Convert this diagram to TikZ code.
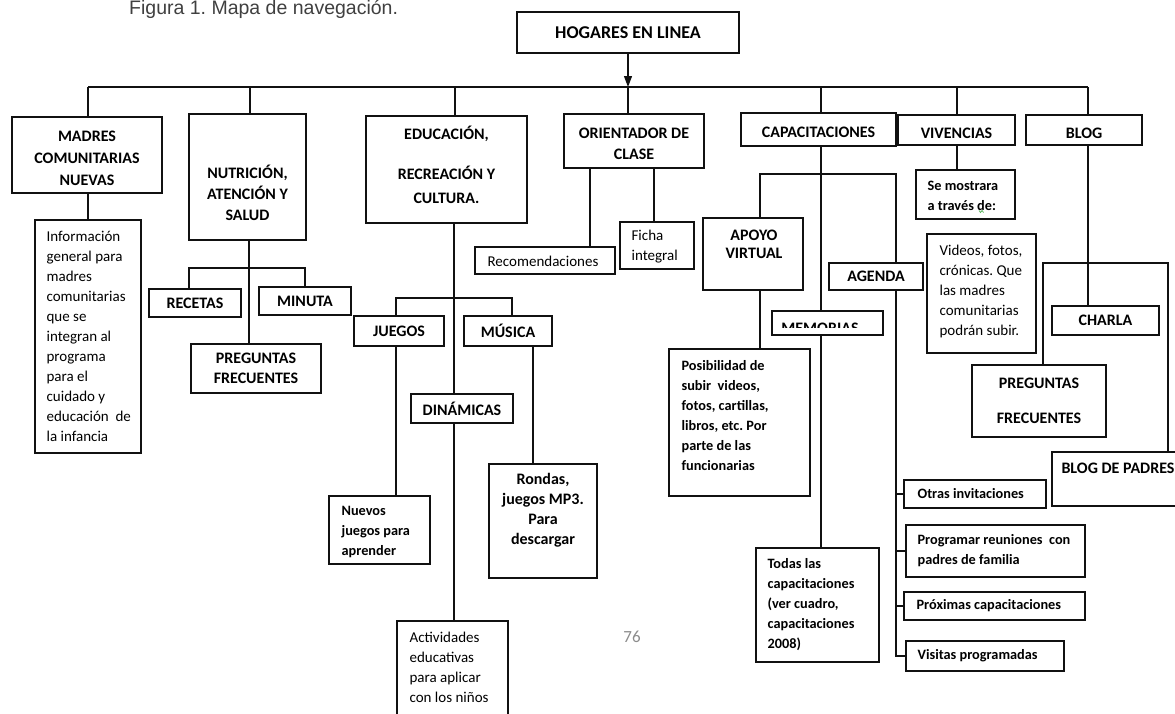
\documentclass[tikz,border=0pt]{standalone}
\usepackage{fontspec}
\setmainfont{Carlito}
\newfontfamily\capfont{Liberation Sans}
\usepackage{tikz}
\usetikzlibrary{arrows.meta}
\definecolor{ink}{HTML}{111111}
\definecolor{capgray}{HTML}{404040}
\definecolor{pagegray}{HTML}{8C8C8C}
\definecolor{wavy}{HTML}{4CAF50}
\frenchspacing
\tikzset{
  bx/.style={draw=ink, line width=1.2pt, inner sep=0pt},
  hd/.style={align=center, inner sep=0pt, font=\fontsize{16pt}{#1pt}\selectfont\bfseries},
  hd/.default=21,
  low/.style={text height=16pt, text depth=0pt},
  tx/.style={align=left, inner sep=0pt, anchor=west, font=\fontsize{15pt}{20pt}\selectfont},
  txb/.style={align=left, inner sep=0pt, anchor=west, font=\fontsize{14.3pt}{20pt}\selectfont\bfseries},
  link/.style={draw=ink, line width=1.2pt}
}

\begin{document}
\begin{tikzpicture}[x=1pt, y=-1pt]
  \path[use as bounding box, fill=white] (0,0) rectangle (1175,713);

  % titulo
  \node[font=\capfont\fontsize{19.5pt}{22pt}\selectfont, text=capgray, anchor=base west, inner sep=0pt] (caption) at (129,14.5) {Figura 1. Mapa de navegación.};

  \node[bx, font=\fontsize{18pt}{21pt}\selectfont\bfseries, minimum width=222, minimum height=41] (hogares) at (628,32.5) {HOGARES EN LINEA};

  % tronco
  \coordinate (t1) at (88,87);
  \coordinate (t2) at (250,87);
  \coordinate (t3) at (455,87);
  \coordinate (t4) at (628,87);
  \coordinate (t5) at (821,87);
  \coordinate (t6) at (957,87);
  \coordinate (t7) at (1088,87);

  % primer nivel
  \node[bx, minimum width=150, minimum height=76] (madres) at (87,155) {};
  \node[hd=22] (madrestxt) at (87,158) {MADRES\\COMUNITARIAS\\NUEVAS};
  \node[bx, minimum width=117, minimum height=126] (nutri) at (247.5,177) {};
  \node[hd] (nutritxt) at (247.5,193) {NUTRICIÓN,\\ATENCIÓN Y\\SALUD};
  \node[bx, minimum width=161, minimum height=107] (educ) at (446.5,169.5) {};
  \node[hd=24] (eductxt) at (446.5,165) {EDUCACIÓN,\\[16pt]RECREACIÓN Y\\CULTURA.};
  \node[bx, minimum width=140, minimum height=54] (orient) at (634,141) {};
  \node[hd] (orienttxt) at (634,144) {ORIENTADOR DE\\CLASE};
  \node[bx, hd, low, minimum width=155, minimum height=33] (capac) at (818.5,129.5) {CAPACITACIONES};
  \node[bx, hd, low, minimum width=117, minimum height=30] (viv) at (956.5,130) {VIVENCIAS};
  \node[bx, hd, low, minimum width=116, minimum height=30] (blog) at (1084,130) {BLOG};

  % madres comunitarias
  \node[bx, minimum width=106, minimum height=233] (info) at (88,336.5) {};
  \node[tx] (infotxt) at ([xshift=12pt]info.west) {Información\\general para\\madres\\comunitarias\\que se\\integran al\\programa\\para el\\cuidado y\\educación~~de\\la infancia};

  % nutricion
  \node[bx, hd, minimum width=92, minimum height=28] (recetas) at (195,303) {RECETAS};
  \node[bx, hd, minimum width=92, minimum height=28] (minuta) at (305,301) {MINUTA};
  \node[bx, hd=20, minimum width=130, minimum height=49] (preg1) at (256,368.5) {PREGUNTAS\\FRECUENTES};

  % educacion
  \node[bx, hd, minimum width=90, minimum height=30] (juegos) at (399,331) {JUEGOS};
  \node[bx, hd, minimum width=88, minimum height=30] (musica) at (508,331) {MÚSICA};
  \node[bx, hd, minimum width=102, minimum height=29] (dinam) at (462,408.5) {DINÁMICAS};
  \node[bx, minimum width=101, minimum height=68] (nuevos) at (379.5,530) {};
  \node[txb] (nuevostxt) at ([xshift=13pt, yshift=-2pt]nuevos.west) {Nuevos\\juegos para\\aprender};
  \node[bx, minimum width=108, minimum height=114] (rondas) at (543,521) {};
  \node[hd=20] (rondastxt) at (543,510) {Rondas,\\juegos MP3.\\Para\\descargar};
  \node[bx, minimum width=111, minimum height=96] (activ) at (452.5,669) {};
  \node[tx] (activtxt) at ([xshift=13pt, yshift=2pt]activ.west) {Actividades\\educativas\\para aplicar\\con los niños};
  \node[font=\fontsize{17pt}{20pt}\selectfont, text=pagegray, inner sep=0pt] (pagina) at (632,637) {76};

  % orientador
  \node[bx, minimum width=140, minimum height=27] (recom) at (545,260.5) {};
  \node[tx] (recomtxt) at ([xshift=13pt, yshift=-1pt]recom.west) {Recomendaciones};
  \node[bx, minimum width=74, minimum height=47] (ficha) at (657,245.5) {};
  \node[tx] (fichatxt) at ([xshift=12pt, yshift=-1pt]ficha.west) {Ficha\\integral};

  % capacitaciones
  \node[bx, minimum width=100, minimum height=72] (apoyo) at (753,254) {};
  \node[hd=18] (apoyotxt) at (754,244) {APOYO\\VIRTUAL};
  \node[bx, minimum width=141, minimum height=147] (posib) at (739.5,422.5) {};
  \node[txb] (posibtxt) at ([xshift=13pt, yshift=7pt]posib.west) {Posibilidad de\\subir~~videos,\\fotos, cartillas,\\libros, etc. Por\\parte de las\\funcionarias};
  \node[bx, minimum width=111, minimum height=24] (memo) at (827.5,323) {};
  \begin{scope}
    \clip (772,311) rectangle (883,327.5);
    \node[hd, anchor=base] (memotxt) at (820,333) {MEMORIAS};
  \end{scope}
  \node[bx, hd, minimum width=94, minimum height=27] (agenda) at (876,276.5) {AGENDA};
  \node[bx, minimum width=123, minimum height=114] (todas) at (817.5,605) {};
  \node[txb] (todastxt) at ([xshift=12pt]todas.west) {Todas las\\capacitaciones\\(ver cuadro,\\capacitaciones\\2008)};
  \node[bx, minimum width=142, minimum height=28] (otras) at (975,494) {};
  \node[txb] (otrastxt) at ([xshift=14pt]otras.west) {Otras invitaciones};
  \node[bx, minimum width=179, minimum height=52] (progr) at (995.5,551) {};
  \node[txb] (progrtxt) at ([xshift=12pt]progr.west) {Programar reuniones~~con\\padres de familia};
  \node[bx, minimum width=181, minimum height=28] (proxim) at (994.5,606) {};
  \node[txb] (proximtxt) at ([xshift=13pt]proxim.west) {Próximas capacitaciones};
  \node[bx, minimum width=158, minimum height=30] (visitas) at (985,656) {};
  \node[txb] (visitastxt) at ([xshift=12pt]visitas.west) {Visitas programadas};

  % vivencias
  \node[bx, minimum width=99, minimum height=49] (semost) at (965.5,194.5) {};
  \node[txb] (semosttxt) at ([xshift=12pt, yshift=-1.5pt]semost.west) {Se mostrara\\a través de:};
  \draw[wavy, line width=0.7pt] (979,210.5) -- (980.5,212.5) -- (982,210.5) -- (983.5,212.5);
  \node[bx, minimum width=109, minimum height=119] (videos) at (981.5,293.5) {};
  \node[tx] (videostxt) at ([xshift=13pt, yshift=2pt]videos.west) {Videos, fotos,\\crónicas. Que\\las madres\\comunitarias\\podrán subir.};

  % blog
  \node[bx, hd, minimum width=107, minimum height=29] (charla) at (1105.5,320.5) {CHARLA};
  \node[bx, hd=35, minimum width=134, minimum height=72] (preg2) at (1039,401) {PREGUNTAS\\FRECUENTES};
  \node[bx, minimum width=124, minimum height=54] (bpadres) at (1114,479) {};
  \node[hd] (bpadrestxt) at (1118,468) {BLOG DE PADRES};

  % conectores
  \draw[link] (t1) -- (t7);
  \draw[link, -{Triangle[length=11pt, width=8pt]}] (hogares.south) -- (t4);
  \draw[link] (t1) -- (t1 |- madres.north);
  \draw[link] (t2) -- (t2 |- nutri.north);
  \draw[link] (t3) -- (t3 |- educ.north);
  \draw[link] (t4) -- (t4 |- orient.north);
  \draw[link] (t5) -- (t5 |- capac.north);
  \draw[link] (t6) -- (t6 |- viv.north);
  \draw[link] (t7) -- (t7 |- blog.north);

  \draw[link] (t1 |- madres.south) -- (t1 |- info.north);

  \coordinate (n0) at (249,268);
  \coordinate (n1) at (189,268);
  \coordinate (n2) at (305,268);
  \draw[link] (n0 |- nutri.south) -- (n0 |- preg1.north);
  \draw[link] (n1 |- recetas.north) -- (n1) -- (n2) -- (n2 |- minuta.north);

  \coordinate (e0) at (454,298);
  \coordinate (e1) at (396,298);
  \coordinate (e2) at (512,298);
  \coordinate (e3) at (533,346);
  \draw[link] (e0 |- educ.south) -- (e0 |- dinam.north);
  \draw[link] (e0 |- dinam.south) -- (e0 |- activ.north);
  \draw[link] (e1 |- juegos.north) -- (e1) -- (e2) -- (e2 |- musica.north);
  \draw[link] (e1 |- juegos.south) -- (e1 |- nuevos.north);
  \draw[link] (e3 |- musica.south) -- (e3 |- rondas.north);

  \coordinate (o1) at (590,168);
  \coordinate (o2) at (654,168);
  \draw[link] (o1 |- orient.south) -- (o1 |- recom.north);
  \draw[link] (o2 |- orient.south) -- (o2 |- ficha.north);

  \coordinate (c0) at (821,174);
  \coordinate (c1) at (760,174);
  \coordinate (c2) at (896,174);
  \draw[link] (c0 |- capac.south) -- (c0 |- memo.north);
  \draw[link] (c0 |- memo.south) -- (c0 |- todas.north);
  \draw[link] (c1 |- apoyo.north) -- (c1) -- (c2) -- (c2 |- agenda.north);
  \draw[link] (c1 |- apoyo.south) -- (c1 |- posib.north);
  \draw[link] (c2 |- agenda.south) |- (visitas.west);
  \draw[link] (c2 |- otras.west) -- (otras.west);
  \draw[link] (c2 |- progr.west) -- (progr.west);
  \draw[link] (c2 |- proxim.west) -- (proxim.west);

  \draw[link] (t6 |- viv.south) -- (t6 |- semost.north);

  \coordinate (b1) at (1043,263);
  \coordinate (b2) at (1168,263);
  \draw[link] (t7 |- blog.south) -- (t7 |- charla.north);
  \draw[link] (b1 |- preg2.north) -- (b1) -- (b2) -- (b2 |- bpadres.north);
\end{tikzpicture}
\end{document}
